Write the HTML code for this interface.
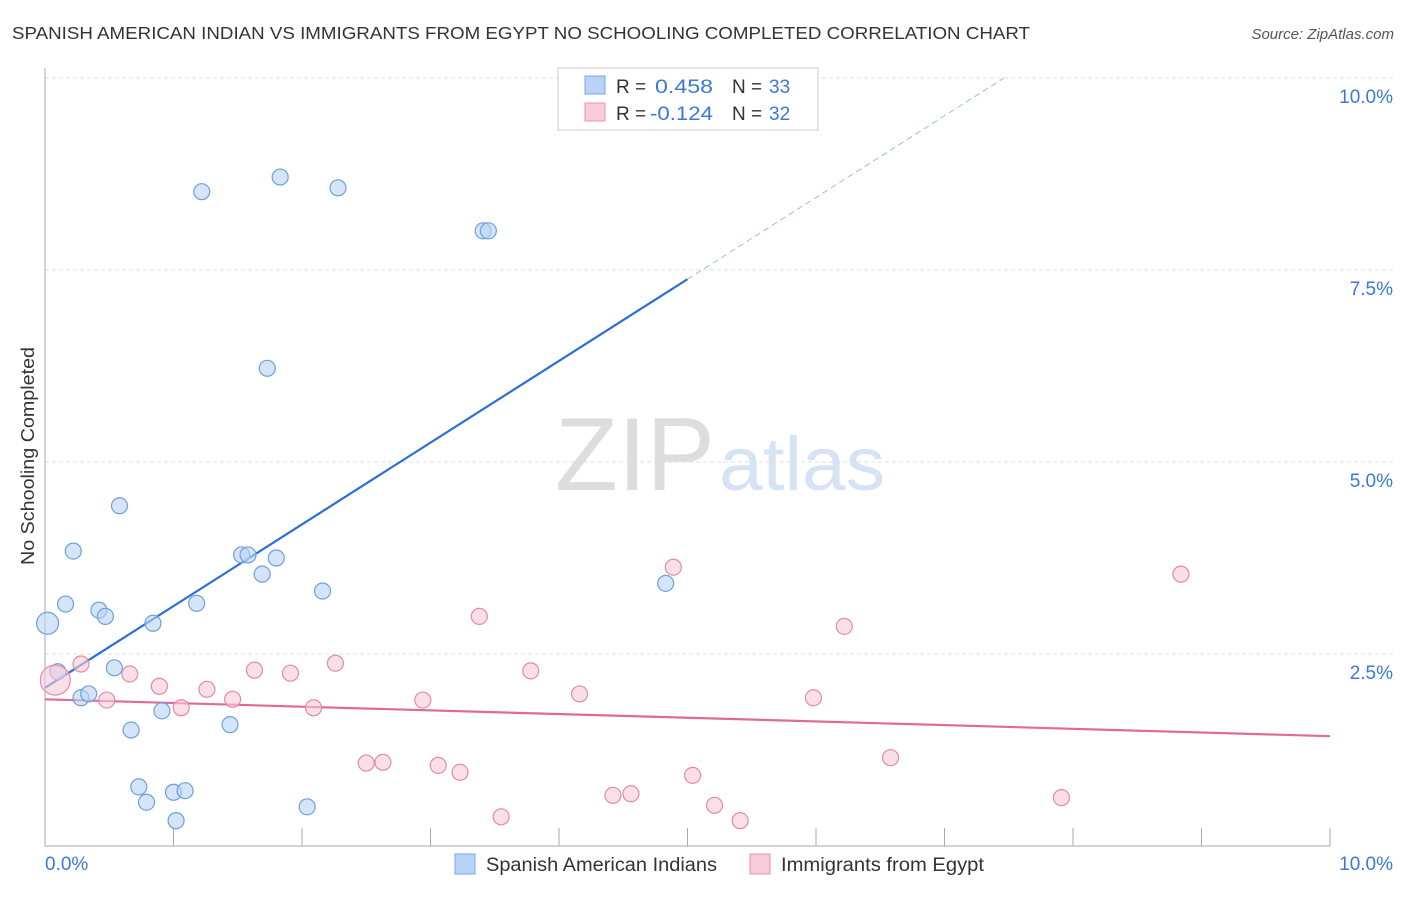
<!DOCTYPE html>
<html><head><meta charset="utf-8"><style>
body{margin:0;background:#fff;font-family:"Liberation Sans",sans-serif;}
svg text{font-family:"Liberation Sans",sans-serif;}
</style></head><body>
<svg id="chart" width="1406" height="892" xmlns="http://www.w3.org/2000/svg">
<text x="12" y="39" font-size="17.5" fill="#333" textLength="1018" lengthAdjust="spacingAndGlyphs">SPANISH AMERICAN INDIAN VS IMMIGRANTS FROM EGYPT NO SCHOOLING COMPLETED CORRELATION CHART</text>
<text x="1394" y="39" font-size="15" fill="#555" text-anchor="end" font-style="italic">Source: ZipAtlas.com</text>
<text transform="translate(34,456) rotate(-90)" font-size="18" fill="#333" text-anchor="middle" textLength="218" lengthAdjust="spacingAndGlyphs">No Schooling Completed</text>
<g id="grid"></g>
<g>
<text x="635" y="490" font-size="104" fill="#ddd" font-family="Liberation Serif,serif" text-anchor="middle" textLength="160" lengthAdjust="spacingAndGlyphs">ZIP</text>
<text x="802" y="490" font-size="76" fill="#d6e3f5" text-anchor="middle" textLength="166" lengthAdjust="spacingAndGlyphs">atlas</text>
</g>
<g id="lines"></g>
<g id="points"></g>
<g>
<rect x="558" y="68" width="260" height="62" fill="#fff" stroke="#ccc"/>
<rect x="585" y="76" width="20" height="18" fill="#b8d3f5" stroke="#7aa7e0"/>
<text x="616" y="93" font-size="19" fill="#333">R = </text><text x="655" y="93" font-size="19" fill="#3b78d8" textLength="58" lengthAdjust="spacingAndGlyphs">0.458</text>
<text x="732" y="93" font-size="19" fill="#333">N = </text><text x="769" y="93" font-size="19" fill="#3b78d8">33</text>
<rect x="585" y="103" width="20" height="18" fill="#f9cad8" stroke="#e895b0"/>
<text x="616" y="120" font-size="19" fill="#333">R = </text><text x="650" y="120" font-size="19" fill="#3b78d8" textLength="63" lengthAdjust="spacingAndGlyphs">-0.124</text>
<text x="732" y="120" font-size="19" fill="#333">N = </text><text x="769" y="120" font-size="19" fill="#3b78d8">32</text>
</g>
<g>
<rect x="455" y="854" width="20" height="20" fill="#b8d3f5" stroke="#7aa7e0"/>
<text x="486" y="871" font-size="19" fill="#333" textLength="231" lengthAdjust="spacingAndGlyphs">Spanish American Indians</text>
<rect x="750" y="854" width="20" height="20" fill="#f9cad8" stroke="#e895b0"/>
<text x="781" y="871" font-size="19" fill="#333" textLength="203" lengthAdjust="spacingAndGlyphs">Immigrants from Egypt</text>
</g>
</svg>
<script>
const yTicks=[2.5,5.0,7.5,10.0];
const yTickLabels=["2.5%","5.0%","7.5%","10.0%"];
const xTickLabels=["0.0%","10.0%"];
const blueX=[0.02,0.10,0.16,0.22,0.28,0.34,0.42,0.47,0.54,0.58,0.67,0.73,0.79,0.84,0.91,1.00,1.02,1.09,1.18,1.22,1.44,1.53,1.58,1.69,1.73,1.80,1.83,2.04,2.16,2.28,3.41,3.45,4.83];
const blueY=[2.90,2.27,3.15,3.84,1.93,1.98,3.07,2.99,2.32,4.43,1.51,0.77,0.57,2.90,1.76,0.70,0.33,0.72,3.16,8.52,1.58,3.79,3.79,3.54,6.22,3.75,8.71,0.51,3.32,8.57,8.01,8.01,3.42];
const pinkX=[0.08,0.28,0.48,0.66,0.89,1.06,1.26,1.46,1.63,1.91,2.09,2.26,2.50,2.63,2.94,3.06,3.23,3.38,3.55,3.78,4.16,4.42,4.56,4.89,5.04,5.21,5.41,5.98,6.22,6.58,7.91,8.84];
const pinkY=[2.16,2.37,1.90,2.24,2.08,1.80,2.04,1.91,2.29,2.25,1.80,2.38,1.08,1.09,1.90,1.05,0.96,2.99,0.38,2.28,1.98,0.66,0.68,3.63,0.92,0.53,0.33,1.93,2.86,1.15,0.63,3.54];
const blueLine=[2.06,1.064];
const pinkLine=[1.91,-0.048];
const NS="http://www.w3.org/2000/svg";
const sx=v=>45+v*128.5, sy=v=>846-v*76.8;
function mk(t,a,p){const e=document.createElementNS(NS,t);for(const k in a)e.setAttribute(k,a[k]);p.appendChild(e);return e;}
const grid=document.getElementById('grid');
yTicks.forEach((t,i)=>{
  const l=mk('line',{x1:45,x2:1394,y1:sy(t),y2:sy(t),stroke:'#ddd','stroke-dasharray':'4,3'},grid);
  
  
  const tx=mk('text',{x:1393,y:sy(t)+25,'font-size':19,fill:'#3b78d8','text-anchor':'end'},grid);tx.textContent=yTickLabels[i];
  
  
});
const ax=mk('line',{x1:45,x2:45,y1:68,y2:846,stroke:'#aaa'},grid);


const bx=mk('line',{x1:45,x2:1330,y1:846,y2:846,stroke:'#aaa'},grid);


for(let i=0;i<=10;i++){const t=mk('line',{x1:sx(i),x2:sx(i),y1:828,y2:846,stroke:'#aaa'},grid);
  
  }
[[0,'start',45],[10,'end',1393]].forEach((d,i)=>{const t=mk('text',{x:d[2],y:870,'font-size':19,fill:'#3b78d8','text-anchor':d[1]},grid);t.textContent=xTickLabels[i];
  
  });
const lines=document.getElementById('lines');
const bl=x=>blueLine[0]+blueLine[1]*x;
let e=mk('line',{x1:sx(0),y1:sy(bl(0)),x2:sx(5),y2:sy(bl(5)),stroke:'#2a6fd6','stroke-width':2.2},lines);


const xEnd=(10-blueLine[0])/blueLine[1];
e=mk('line',{x1:sx(5),y1:sy(bl(5)),x2:sx(xEnd),y2:sy(10),stroke:'#9bbbe8','stroke-width':1,'stroke-dasharray':'6,4'},lines);


const pl=x=>pinkLine[0]+pinkLine[1]*x;
e=mk('line',{x1:sx(0),y1:sy(pl(0)),x2:sx(10),y2:sy(pl(10)),stroke:'#e06a95','stroke-width':2.2},lines);


const pts=document.getElementById('points');
blueX.forEach((x,i)=>{const c=mk('circle',{cx:sx(x),cy:sy(blueY[i]),r:i==0?11:8,fill:'rgba(184,211,245,0.6)',stroke:'#6f9fdc','stroke-width':1.2},pts);
  
  });
pinkX.forEach((x,i)=>{const c=mk('circle',{cx:sx(x),cy:sy(pinkY[i]),r:i==0?15:8,fill:'rgba(249,202,216,0.6)',stroke:'#e48aa8','stroke-width':1.2},pts);
  
  });
</script>
</body></html>
